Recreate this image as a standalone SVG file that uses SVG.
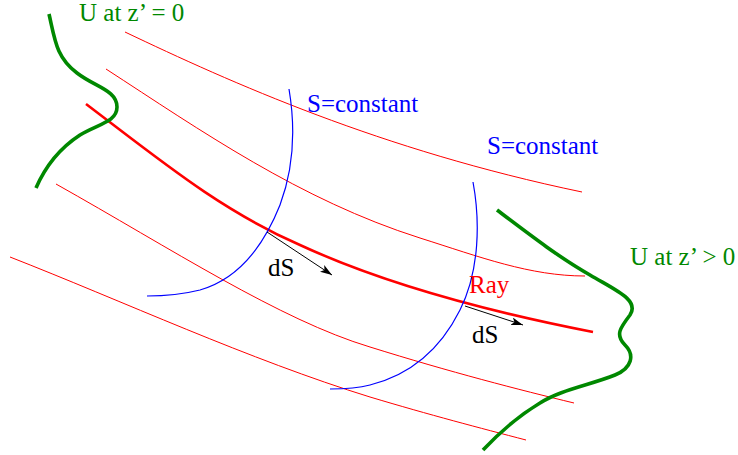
<svg xmlns="http://www.w3.org/2000/svg" width="738" height="455" viewBox="0 0 738 455">
<defs>
<style>
.thin{fill:none;stroke:#ff0000;stroke-width:1}
.ray{fill:none;stroke:#ff0000;stroke-width:2.6}
.wave{fill:none;stroke:#008800;stroke-width:3.6}
.front{fill:none;stroke:#0000ff;stroke-width:1.2}
.arr{fill:none;stroke:#000;stroke-width:1}
.lbl{font-family:"Liberation Serif","Times New Roman",serif;font-size:25px}
</style>
<marker id="ah" viewBox="0 0 12 8" refX="12" refY="4" markerWidth="12" markerHeight="8" markerUnits="userSpaceOnUse" orient="auto">
<path d="M0,0 L12,4 L0,8 L3,4 Z" fill="#000"/>
</marker>
</defs>
<rect width="738" height="455" fill="#fff"/>
<g id="rays">
<path class="thin" d="M125,32 C230,82 380,150 582,192"/>
<path class="thin" d="M106,69 C200,130 300,200 420,238 C480,257 530,276 585,276"/>
<path class="thin" d="M56,184 C170,248 280,320 370,347 C450,372 520,390 574,403"/>
<path class="thin" d="M10,257 C120,300 250,360 370,397 C430,415 480,428 526,440"/>
<path class="ray" d="M86,104 C160,160 220,210 300,245 C380,282 480,310 593,332"/>
</g>
<g id="fronts">
<path class="front" d="M289,89 C295,125 295,165 280,205 C262,250 235,280 200,290 C180,295 160,296 147,296"/>
<path class="front" d="M473,182 C480,220 480,270 460,310 C440,350 410,375 370,385 C355,389 340,389 330,389"/>
</g>
<g id="waves">
<path class="wave" d="M49,14 C55,40 56,57 77,73 C95,87 117,90 117,107 C117,122 98,124 80,135 C60,148 46,165 36,188"/>
<path class="wave" d="M497,210 C530,235 560,258 590,275 C615,290 640,300 630,315 C620,328 615,335 625,345 C635,355 632,368 615,375 C590,385 560,390 540,403 C520,415 500,432 483,450"/>
</g>
<g id="connectors">
<path class="arr" marker-end="url(#ah)" d="M267,232 L332,275"/>
<path class="arr" marker-end="url(#ah)" d="M465,306 L523,325"/>
</g>
<g id="labels">
<text class="lbl" x="79" y="21" fill="#008800">U at z’ = 0</text>
<text class="lbl" x="307" y="112" fill="#0000ff">S=constant</text>
<text class="lbl" x="487" y="154" fill="#0000ff">S=constant</text>
<text class="lbl" x="630" y="265" fill="#008800">U at z’ &gt; 0</text>
<text class="lbl" x="469" y="293" fill="#ff0000">Ray</text>
<text class="lbl" x="268" y="276" fill="#000">dS</text>
<text class="lbl" x="472" y="343" fill="#000">dS</text>
</g>
</svg>
